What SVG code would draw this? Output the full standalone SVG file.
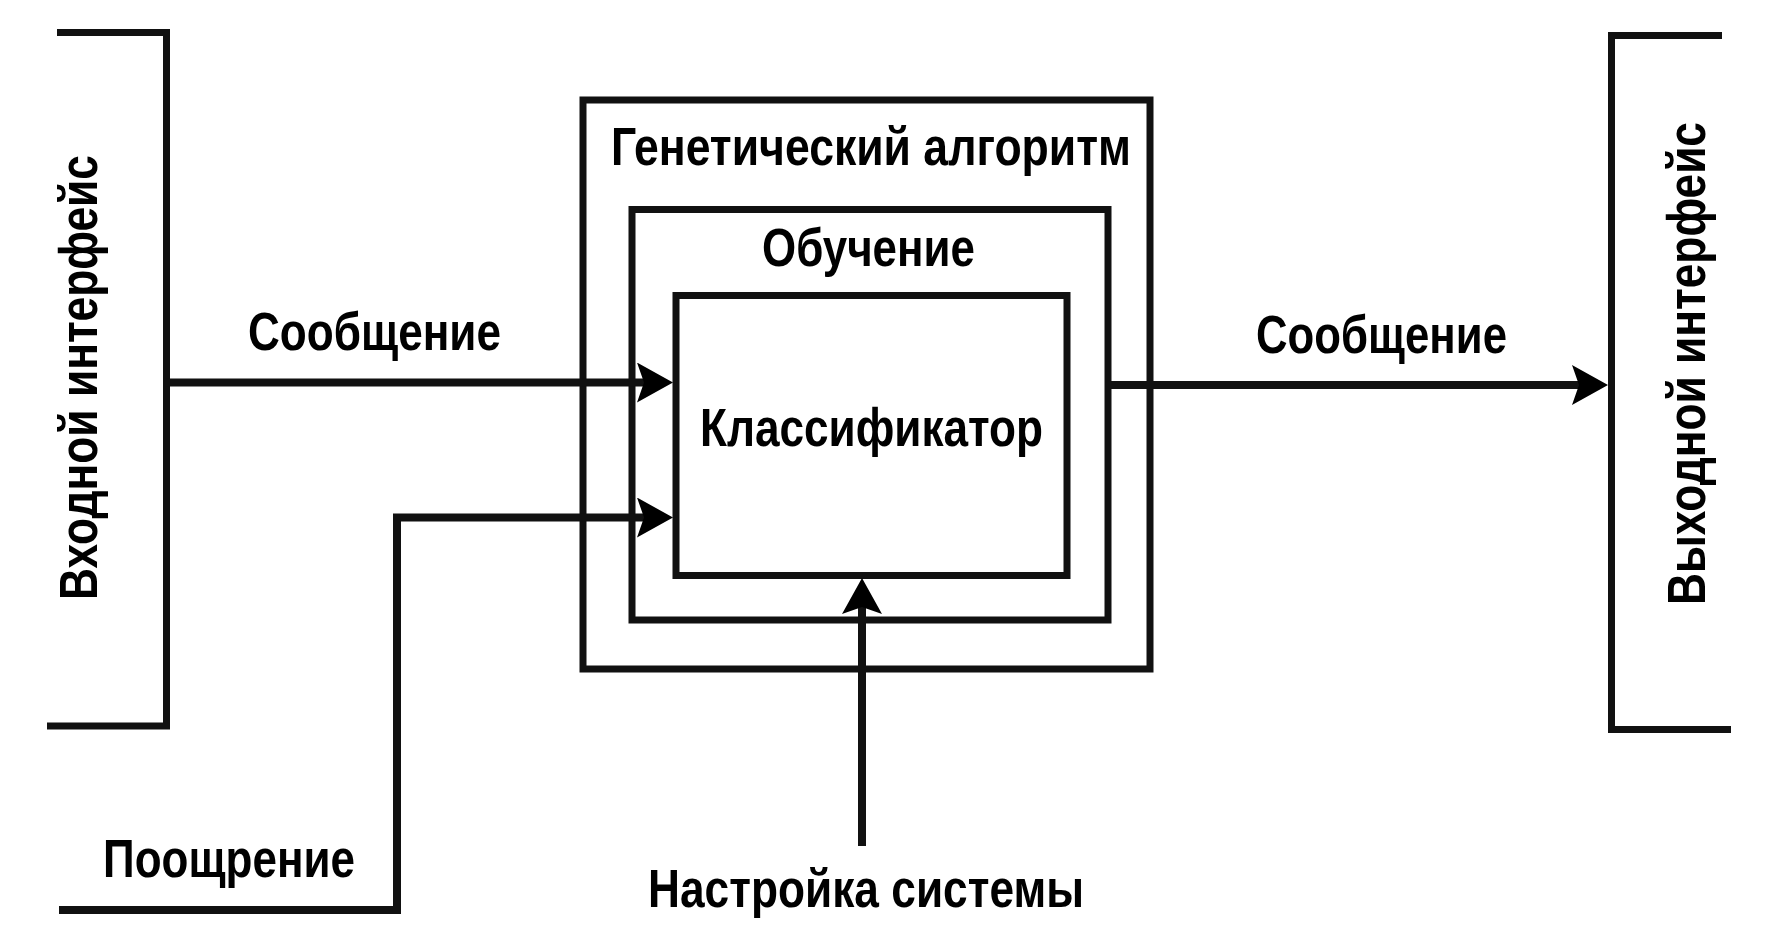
<svg xmlns="http://www.w3.org/2000/svg" width="1772" height="945" viewBox="0 0 1772 945">
<style>
.ln{fill:none;stroke:#111;stroke-width:7;stroke-linecap:butt;stroke-linejoin:miter}
.ar{fill:none;stroke:#111;stroke-width:8;stroke-linecap:butt;stroke-linejoin:miter;marker-end:url(#ah)}
.t{font-family:"Liberation Sans",Arial,sans-serif;font-weight:bold;font-size:53px;fill:#000}
</style>
<defs>
<marker id="ah" viewBox="0 0 36 40" refX="7" refY="20" markerWidth="36" markerHeight="40" markerUnits="userSpaceOnUse" orient="auto">
<path d="M0,0 L36,20 L0,40 L7,20 Z" fill="#000"/>
</marker>
</defs>
<rect width="1772" height="945" fill="#fff"/>
<g id="input-interface">
<polyline class="ln" points="57,32.5 166.5,32.5 166.5,726 47,726"/>
<text class="t" transform="translate(97,600) rotate(-90)" font-size="54" textLength="445" lengthAdjust="spacingAndGlyphs">Входной интерфейс</text>
</g>
<g id="output-interface">
<polyline class="ln" points="1722,35.5 1611.5,35.5 1611.5,729.5 1731,729.5"/>
<text class="t" transform="translate(1705,605) rotate(-90)" font-size="55" textLength="483" lengthAdjust="spacingAndGlyphs">Выходной интерфейс</text>
</g>
<g id="genetic-algorithm">
<rect class="ln" x="583" y="100" width="567" height="569"/>
<text class="t" x="611" y="165" textLength="520" lengthAdjust="spacingAndGlyphs">Генетический алгоритм</text>
</g>
<g id="learning">
<rect class="ln" x="632" y="209.5" width="476" height="410.5"/>
<text class="t" x="762" y="266" textLength="213" lengthAdjust="spacingAndGlyphs">Обучение</text>
</g>
<g id="classifier">
<rect class="ln" x="676" y="295.5" width="391" height="280"/>
<text class="t" x="700" y="446" textLength="343" lengthAdjust="spacingAndGlyphs">Классификатор</text>
</g>
<g id="connectors">
<path class="ar" d="M166,382.5 H644"/>
<path class="ar" d="M59,910 H397 V517.5 H644"/>
<path class="ar" d="M862,846 V607"/>
<path class="ar" d="M1108,385 H1579"/>
<text class="t" x="248" y="350" textLength="253" lengthAdjust="spacingAndGlyphs">Сообщение</text>
<text class="t" x="1256" y="353" textLength="251" lengthAdjust="spacingAndGlyphs">Сообщение</text>
<text class="t" x="103" y="877" textLength="252" lengthAdjust="spacingAndGlyphs">Поощрение</text>
<text class="t" x="648" y="907" textLength="436" lengthAdjust="spacingAndGlyphs">Настройка системы</text>
</g>
</svg>
